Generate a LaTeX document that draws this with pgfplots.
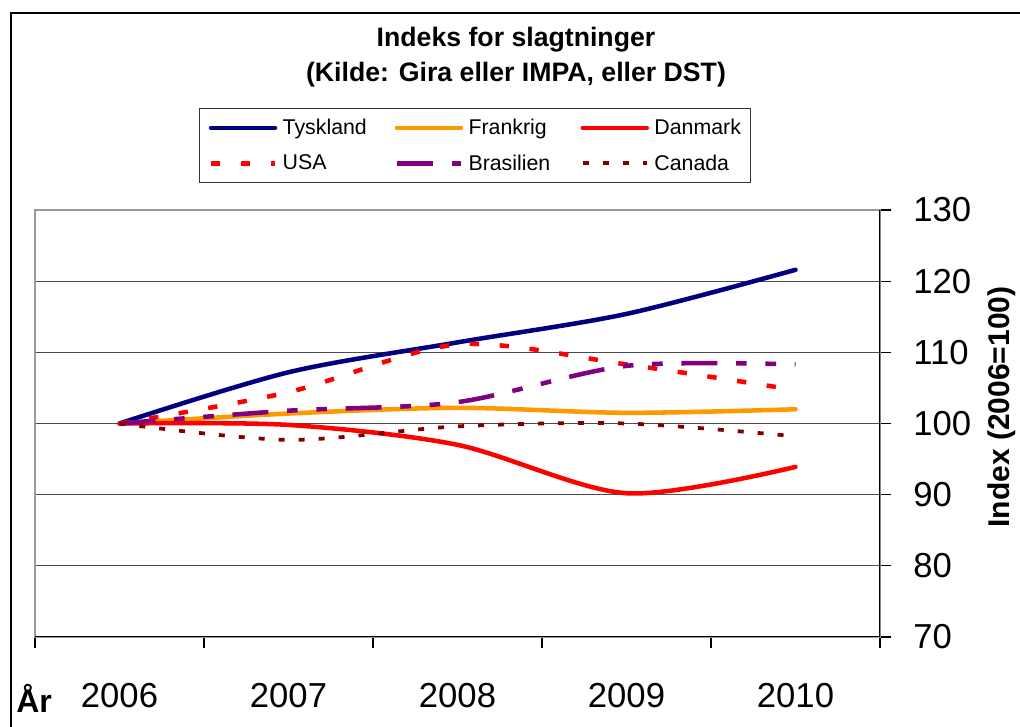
\documentclass[border=0pt]{standalone}
\usepackage{pgfplots}
\pgfplotsset{compat=1.18}
\usepackage{fontspec}
\setmainfont{Liberation Sans}
\definecolor{xlnavy}{RGB}{0,0,128}
\definecolor{xlorange}{RGB}{255,153,0}
\definecolor{xlred}{RGB}{255,0,0}
\definecolor{xlpurple}{RGB}{128,0,128}
\definecolor{xlmaroon}{RGB}{128,0,0}
\begin{document}
\begin{tikzpicture}[x=0.75pt,y=0.75pt]
\useasboundingbox (0,0) rectangle (1020,727);
\draw[line width=1.1pt] (11,0) -- (11,714) -- (1020,714);
\begin{axis}[
  at={(26.25pt,67.5pt)}, anchor=south west,
  scale only axis, width=633.75pt, height=320.25pt,
  xmin=-0.5, xmax=4.5, ymin=70, ymax=130,
  xtick={-0.5,0.5,1.5,2.5,3.5,4.5}, xticklabels={},
  extra x ticks={0,1,2,3,4},
  extra x tick labels={2006,2007,2008,2009,2010},
  extra x tick style={major tick length=0pt, xticklabel style={yshift=-31pt}},
  ytick={70,80,...,130},
  tick align=outside, major tick length=8.5pt,
  xtick pos=bottom, ytick pos=right, yticklabel pos=right,
  /pgf/number format/assume math mode=true,
  ticklabel style={font=\fontsize{26}{30}\selectfont},
  yticklabel style={anchor=west, xshift=13pt},
  ymajorgrids, major grid style={black!70, line width=0.8pt},
  axis line style={black!40, line width=1pt},
  tick style={black, line width=0.8pt},
  legend columns=3,
  legend image code/.code={\draw[#1] (0pt,0pt) -- (48pt,0pt);},
  legend style={at={(axis description cs:0.194,1.239)}, anchor=north west,
    draw=black!80, line width=0.8pt, font=\fontsize{16}{19}\selectfont,
    inner xsep=7pt, inner ysep=6pt, row sep=9.5pt,
    /tikz/every even column/.append style={column sep=0pt}},
]
\addplot[xlnavy, line width=3.4pt, smooth, line cap=round] coordinates {(0,100)(1,107.2)(2,111.4)(3,115.4)(4,121.6)};
\addlegendentry{\makebox[84pt][l]{\hspace*{2pt}Tyskland}}
\addplot[xlorange, line width=3.4pt, smooth, line cap=round] coordinates {(0,100)(1,101.4)(2,102.2)(3,101.5)(4,102)};
\addlegendentry{\makebox[84pt][l]{\hspace*{2pt}Frankrig}}
\addplot[xlred, line width=3.4pt, smooth, line cap=round] coordinates {(0,100)(1,99.8)(2,97)(3,90.2)(4,93.9)};
\addlegendentry{\makebox[65pt][l]{\hspace*{2pt}Danmark}}
\addplot[xlred, line width=3.4pt, smooth, dash pattern=on 7pt off 15.5pt] coordinates {(0,100)(1,104.4)(2,111.1)(3,108.3)(4,104.7)};
\addlegendentry{\makebox[84pt][l]{\hspace*{2pt}USA}}
\addplot[xlpurple, line width=3.4pt, smooth, dash pattern=on 27pt off 14pt on 8pt off 14pt on 8pt off 14pt] coordinates {(0,100)(1,101.8)(2,103.0)(3,108.1)(4,108.3)};
\addlegendentry{\makebox[84pt][l]{\hspace*{2pt}Brasilien}}
\addplot[xlmaroon, line width=2.8pt, smooth, dash pattern=on 4.5pt off 10.5pt] coordinates {(0,100)(1,97.7)(2,99.6)(3,100)(4,98.2)};
\addlegendentry{\makebox[65pt][l]{\hspace*{2pt}Canada}}
\draw[black, line width=1pt] (rel axis cs:0,0) -- (rel axis cs:1,0) -- (rel axis cs:1,1);
\end{axis}
\node[font=\bfseries\fontsize{20}{24}\selectfont] at (516,687) {Indeks for slagtninger};
\node[font=\bfseries\fontsize{20}{24}\selectfont] at (516,652) {(Kilde: Gira eller IMPA, eller DST)};
\node[font=\bfseries\fontsize{24}{28}\selectfont, anchor=base west, inner sep=0pt] at (16,14) {År};
\node[font=\bfseries\fontsize{22.5}{26}\selectfont, rotate=90] at (1002,320) {Index (2006=100)};
\end{tikzpicture}
\end{document}
